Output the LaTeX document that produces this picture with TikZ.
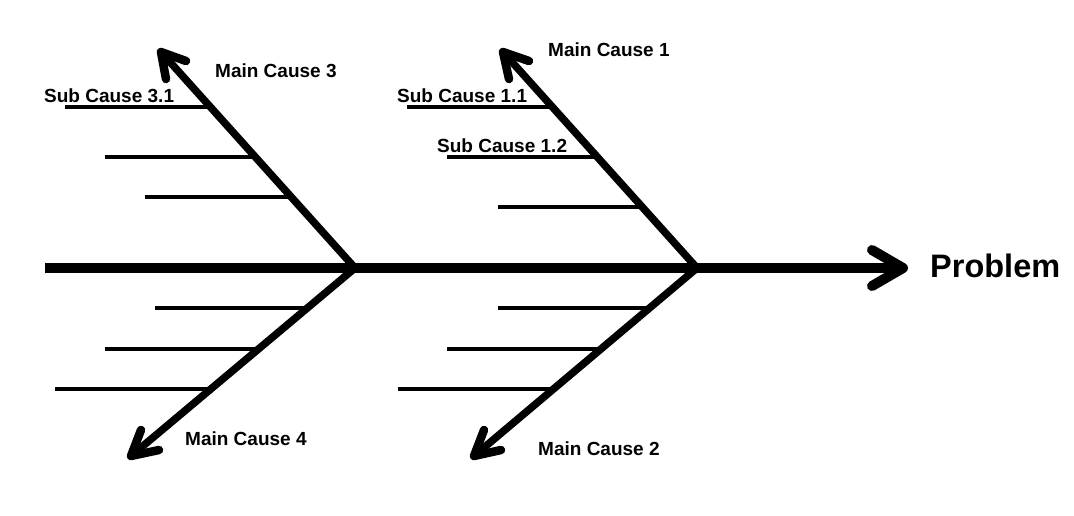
\documentclass[tikz,border=0pt]{standalone}
\usepackage{fontspec}
\setmainfont{Liberation Sans}
\begin{document}
\begin{tikzpicture}[x=1pt,y=-1pt,
  spine/.style={line width=10pt},
  bone/.style={line width=7.5pt},
  head/.style={line width=8.5pt,line cap=round,line join=round},
  bighead/.style={line width=10pt,line cap=round,line join=round},
  sub/.style={line width=3.5pt},
  lbl/.style={anchor=west,inner sep=0pt,font=\fontsize{19}{22}\selectfont\bfseries},
  prob/.style={anchor=west,inner sep=0pt,font=\fontsize{32.5}{38}\selectfont\bfseries}]
\useasboundingbox (0,0) rectangle (1074,515);
% key points
\coordinate (s0) at (45,268);
\coordinate (stip) at (903,268);
\coordinate (jA) at (355,268);
\coordinate (jB) at (697,268);
\coordinate (t3) at (161,52);
\coordinate (t1) at (503,52);
\coordinate (t4) at (131,456);
\coordinate (t2) at (474,456);
% spine
\draw[spine] (s0) -- (stip);
\draw[bighead] (872,250) -- (stip) -- (872,286);
% bones
\draw[bone] (jA) -- (t3);
\draw[bone] (jB) -- (t1);
\draw[bone] (jA) -- (t4);
\draw[bone] (jB) -- (t2);
% bone heads
\draw[head] (186,61) -- (t3) -- (166,79);
\draw[head] (529,61) -- (t1) -- (509,79);
\draw[head] (141,430) -- (t4) -- (159,450);
\draw[head] (484,430) -- (t2) -- (501,450);
% sub causes upper left
\coordinate (a1) at (65,107);  \coordinate (b1) at (211,107);
\coordinate (a2) at (105,157); \coordinate (b2) at (256,157);
\coordinate (a3) at (145,197); \coordinate (b3) at (291,197);
\draw[sub] (a1) -- (b1); \draw[sub] (a2) -- (b2); \draw[sub] (a3) -- (b3);
% upper right
\coordinate (c1) at (407,107); \coordinate (d1) at (553,107);
\coordinate (c2) at (447,157); \coordinate (d2) at (598,157);
\coordinate (c3) at (498,207); \coordinate (d3) at (642,207);
\draw[sub] (c1) -- (d1); \draw[sub] (c2) -- (d2); \draw[sub] (c3) -- (d3);
% lower left
\coordinate (e1) at (155,308); \coordinate (f1) at (307,308);
\coordinate (e2) at (105,349); \coordinate (f2) at (259,349);
\coordinate (e3) at (55,389);  \coordinate (f3) at (211,389);
\draw[sub] (e1) -- (f1); \draw[sub] (e2) -- (f2); \draw[sub] (e3) -- (f3);
% lower right
\coordinate (g1) at (498,308); \coordinate (h1) at (650,308);
\coordinate (g2) at (447,349); \coordinate (h2) at (601,349);
\coordinate (g3) at (398,389); \coordinate (h3) at (554,389);
\draw[sub] (g1) -- (h1); \draw[sub] (g2) -- (h2); \draw[sub] (g3) -- (h3);
% labels
\node[lbl] (m3) at (215,71) {Main Cause 3};
\node[lbl] (s31) at (44,95.5) {Sub Cause 3.1};
\node[lbl] (m1) at (548,50) {Main Cause 1};
\node[lbl] (s11) at (397,95.5) {Sub Cause 1.1};
\node[lbl] (s12) at (437,145.5) {Sub Cause 1.2};
\node[lbl] (m4) at (185,439) {Main Cause 4};
\node[lbl] (m2) at (538,449) {Main Cause 2};
\node[prob] (p) at (930,266) {Problem};
\end{tikzpicture}
\end{document}
